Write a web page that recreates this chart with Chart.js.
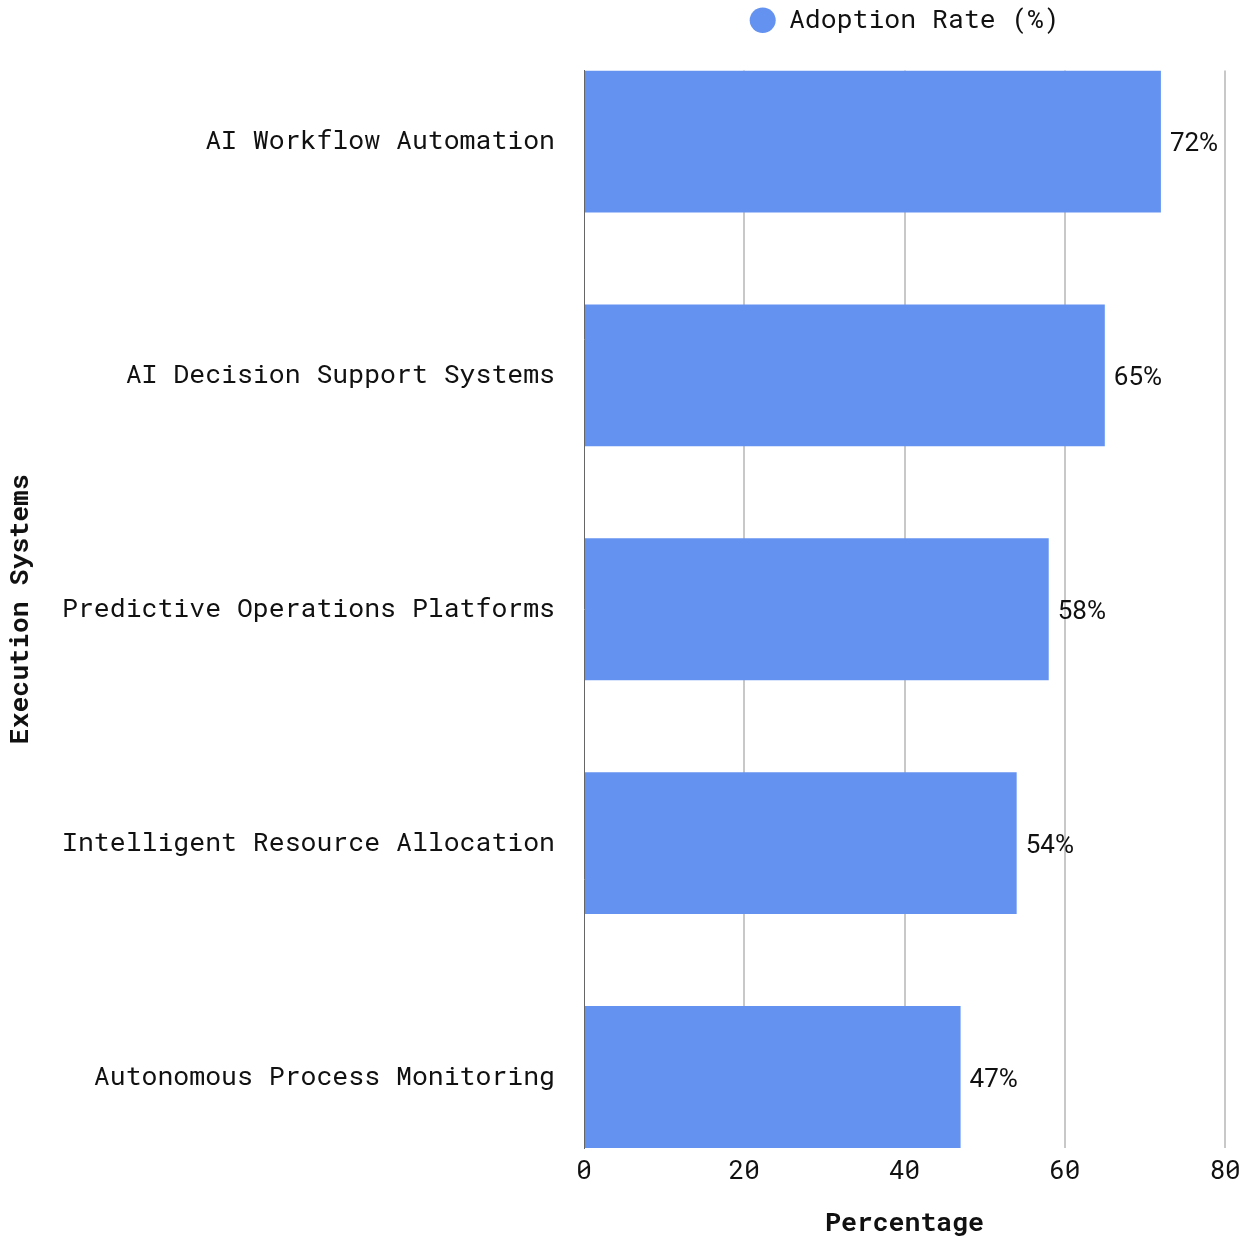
<!DOCTYPE html>
<html>
<head>
<meta charset="utf-8">
<title>Adoption Rate by Execution System</title>
<script src="https://cdn.jsdelivr.net/npm/chart.js@4/dist/chart.umd.min.js"></script>
<style>
  html, body { margin: 0; padding: 0; background: #fff; }
  #wrap { width: 1246px; height: 1239px; }
</style>
</head>
<body>
<div id="wrap"><canvas id="adoptionChart" width="1246" height="1239"></canvas></div>
<script>
const categories = [
    'AI Workflow Automation',
    'AI Decision Support Systems',
    'Predictive Operations Platforms',
    'Intelligent Resource Allocation',
    'Autonomous Process Monitoring'
];
const adoptionRate = [72, 65, 58, 54, 47];
const xTicks = [0, 20, 40, 60, 80];

const MONO = "'Roboto Mono', 'DejaVu Sans Mono', monospace";
const BAR_COLOR = '#6492F1';

// value labels at the end of each bar
const barValueLabels = {
    id: 'barValueLabels',
    afterDatasetsDraw(chart) {
        const ctx = chart.ctx;
        const meta = chart.getDatasetMeta(0);
        ctx.save();
        ctx.font = "26px Roboto, 'Noto Sans', sans-serif";
        ctx.fillStyle = '#111';
        ctx.textAlign = 'left';
        ctx.textBaseline = 'middle';
        meta.data.forEach((bar, i) => {
            ctx.fillText(adoptionRate[i] + '%', bar.x + 9, bar.y + 3);
        });
        ctx.restore();
    }
};

// extra room between the legend and the plot
const legendGap = {
    id: 'legendGap',
    beforeInit(chart) {
        const origFit = chart.legend.fit;
        chart.legend.fit = function fit() {
            origFit.bind(chart.legend)();
            this.height += 27;
        };
    }
};

new Chart(document.getElementById('adoptionChart'), {
    type: 'bar',
    data: {
        labels: categories.map((_, i) => i),
        datasets: [{
            label: 'Adoption Rate (%)',
            data: adoptionRate,
            backgroundColor: BAR_COLOR,
            borderWidth: 0,
            barPercentage: 1,
            categoryPercentage: 0.6068
        }]
    },
    options: {
        indexAxis: 'y',
        responsive: false,
        animation: false,
        layout: { padding: { top: 0, right: 21, bottom: 0, left: 0 } },
        scales: {
            x: {
                type: 'linear',
                min: 0,
                max: 80,
                afterBuildTicks: (scale) => { scale.ticks = xTicks.map(v => ({ value: v })); },
                afterFit: (scale) => {
                    scale.height = 91;
                    scale.paddingLeft = 0;
                    scale.paddingRight = 0;
                },
                grid: {
                    color: (c) => c.tick && c.tick.value === 0 ? 'rgba(0,0,0,0)' : '#c8c8c8',
                    lineWidth: 2,
                    drawTicks: false
                },
                border: { display: false },
                ticks: { color: '#111', font: { family: MONO, size: 26 }, padding: 8 },
                title: {
                    display: true,
                    text: 'Percentage',
                    color: '#111',
                    font: { family: MONO, size: 26.5, weight: 'bold' },
                    padding: { top: 0, bottom: 0 }
                }
            },
            y: {
                type: 'linear',
                reverse: true,
                offset: false,
                min: -0.3034,
                max: 4.3034,
                afterBuildTicks: (scale) => { scale.ticks = categories.map((_, i) => ({ value: i })); },
                afterFit: (scale) => { scale.width = 584; },
                grid: { display: false, drawTicks: false, offset: false },
                border: { display: true, color: '#666', width: 1 },
                ticks: {
                    color: '#111',
                    font: { family: MONO, size: 26.5 },
                    padding: 29,
                    callback: (v) => categories[v]
                },
                title: {
                    display: true,
                    text: 'Execution Systems',
                    color: '#111',
                    font: { family: MONO, size: 26.5, weight: 'bold' },
                    padding: { top: 4, bottom: 4 }
                }
            }
        },
        plugins: {
            legend: {
                position: 'top',
                fullSize: false,
                labels: {
                    usePointStyle: true,
                    pointStyle: 'circle',
                    pointStyleWidth: 26,
                    boxHeight: 18,
                    padding: 7,
                    color: '#111',
                    font: { family: MONO, size: 26.5 }
                }
            },
            tooltip: { enabled: false }
        }
    },
    plugins: [barValueLabels, legendGap]
});
</script>
</body>
</html>
